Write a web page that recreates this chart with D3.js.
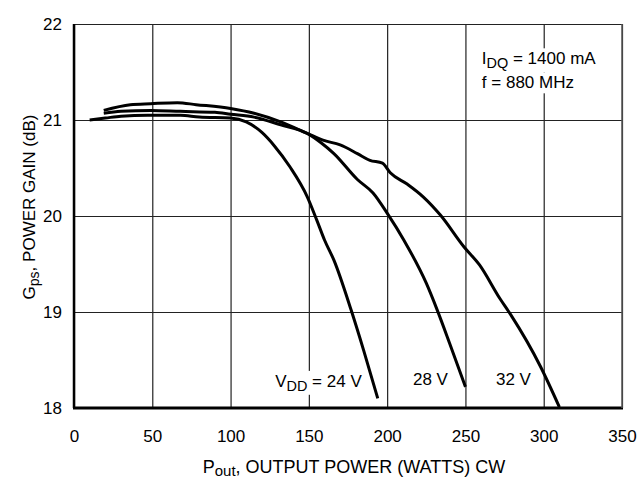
<!DOCTYPE html>
<html>
<head>
<meta charset="utf-8">
<script src="https://cdn.jsdelivr.net/npm/d3@7"></script>
<style>
  body { margin: 0; background: #fff; }
  svg { font-family: "Liberation Sans Narrow", "Arial Narrow", "Liberation Sans", sans-serif; }
  .grid line { stroke: #222; stroke-width: 1.2; }
  .grid path { display: none; }
  .ticklbl text { font-size: 17px; fill: #000; }
</style>
</head>
<body>
<div id="chart"></div>
<script>
// P_out (W) and Gps (dB), one pair of arrays per V_DD
var p24 = [10, 20, 30, 47, 68, 80, 100, 110, 120, 128, 138, 149, 155, 160, 166, 177, 185, 194]
var g24 = [21.0, 21.02, 21.04, 21.05, 21.05, 21.03, 21.02, 20.98, 20.87, 20.73, 20.51, 20.2, 19.96, 19.75, 19.54, 19.02, 18.6, 18.1]

var p28 = [19, 30, 49, 68, 90, 100, 115, 132, 149, 158, 166, 181, 191, 200, 211, 225, 232, 240, 250]
var g28 = [21.07, 21.09, 21.1, 21.09, 21.08, 21.06, 21.03, 20.95, 20.86, 20.76, 20.65, 20.38, 20.24, 20.03, 19.74, 19.3, 19.02, 18.67, 18.22]

var p32 = [19, 36, 49, 66, 78, 100, 115, 132, 149, 159, 170, 181, 189, 197, 202, 213, 223, 234, 249, 259, 272, 279, 298, 310]
var g32 = [21.1, 21.16, 21.17, 21.18, 21.16, 21.12, 21.07, 20.98, 20.86, 20.79, 20.74, 20.65, 20.58, 20.55, 20.45, 20.33, 20.2, 20.01, 19.68, 19.49, 19.14, 18.97, 18.43, 18.01]

var xTicks = [0, 50, 100, 150, 200, 250, 300, 350]
var yTicks = [18, 19, 20, 21, 22]

var width = 638, height = 481
var m = {left: 74, right: 16, top: 24, bottom: 73}
var w = width - m.left - m.right
var h = height - m.top - m.bottom

var svg = d3.select('#chart').append('svg').attr('width', width).attr('height', height)
var g = svg.append('g').attr('transform', 'translate(' + m.left + ',' + m.top + ')')

var x = d3.scaleLinear().domain([0, 350]).range([0, w])
var y = d3.scaleLinear().domain([18, 22]).range([h, 0])

// grid + tick labels
g.append('g').attr('class', 'grid ticklbl')
    .attr('transform', 'translate(0,' + h + ')')
    .call(d3.axisBottom(x).tickValues(xTicks).tickFormat(d3.format('d')).tickSizeInner(-h).tickSizeOuter(0).tickPadding(22))
g.append('g').attr('class', 'grid ticklbl')
    .call(d3.axisLeft(y).tickValues(yTicks).tickFormat(d3.format('d')).tickSizeInner(-w).tickSizeOuter(0).tickPadding(12))

// frame: thick left and bottom, thin top and right
g.append('line').attr('x1', 0).attr('x2', 0).attr('y1', 0).attr('y2', h).attr('stroke', '#000').attr('stroke-width', 2.5)
g.append('line').attr('x1', -1).attr('x2', w + 1).attr('y1', h).attr('y2', h).attr('stroke', '#000').attr('stroke-width', 3)
g.append('line').attr('x1', w).attr('x2', w).attr('y1', 0).attr('y2', h).attr('stroke', '#555').attr('stroke-width', 1.5)

// text boxes (white behind, hiding the grid)
function label(px, py, parts, size) {
    var t = g.append('text').attr('x', px).attr('y', py).attr('font-size', size)
    parts.forEach(function(p) {
        var s = t.append('tspan').text(p[0])
        if (p[1] == 'sub') s.attr('baseline-shift', '-28%').attr('font-size', size * 0.85)
    })
    var b = t.node().getBBox()
    g.insert('rect', function() { return t.node() })
        .attr('x', b.x - 3).attr('y', b.y - 1).attr('width', b.width + 6).attr('height', b.height + 2)
        .attr('fill', '#fff')
    return t
}

label(x(260.5), y(21.58), [['I'], ['DQ', 'sub'], [' = 1400 mA']], 17)
label(x(260.5), y(21.33), [['f = 880 MHz']], 17)
label(x(128.5), y(18.22), [['V'], ['DD', 'sub'], [' = 24 V']], 17)
label(x(216.5), y(18.24), [['28 V']], 17)
label(x(269.5), y(18.24), [['32 V']], 17)

// curves
var line = d3.line().x(d => x(d[0])).y(d => y(d[1])).curve(d3.curveMonotoneX)
var series = [[p24, g24], [p28, g28], [p32, g32]]
series.forEach(function(s) {
    g.append('path')
        .datum(s[0].map((p, i) => [p, s[1][i]]))
        .attr('fill', 'none')
        .attr('stroke', '#000')
        .attr('stroke-width', 3)
        .attr('stroke-linejoin', 'round')
        .attr('d', line)
})

// axis titles
var xt = svg.append('text').attr('x', 354).attr('y', 473)
    .attr('text-anchor', 'middle').attr('font-size', 18)
xt.append('tspan').text('P')
xt.append('tspan').text('out').attr('baseline-shift', '-22%').attr('font-size', 15)
xt.append('tspan').text(', OUTPUT POWER (WATTS) CW')

var yt = svg.append('text').attr('transform', 'translate(35,207) rotate(-90)')
    .attr('text-anchor', 'middle').attr('font-size', 17)
yt.append('tspan').text('G')
yt.append('tspan').text('ps').attr('baseline-shift', '-28%').attr('font-size', 14)
yt.append('tspan').text(', POWER GAIN (dB)')
</script>
</body>
</html>
